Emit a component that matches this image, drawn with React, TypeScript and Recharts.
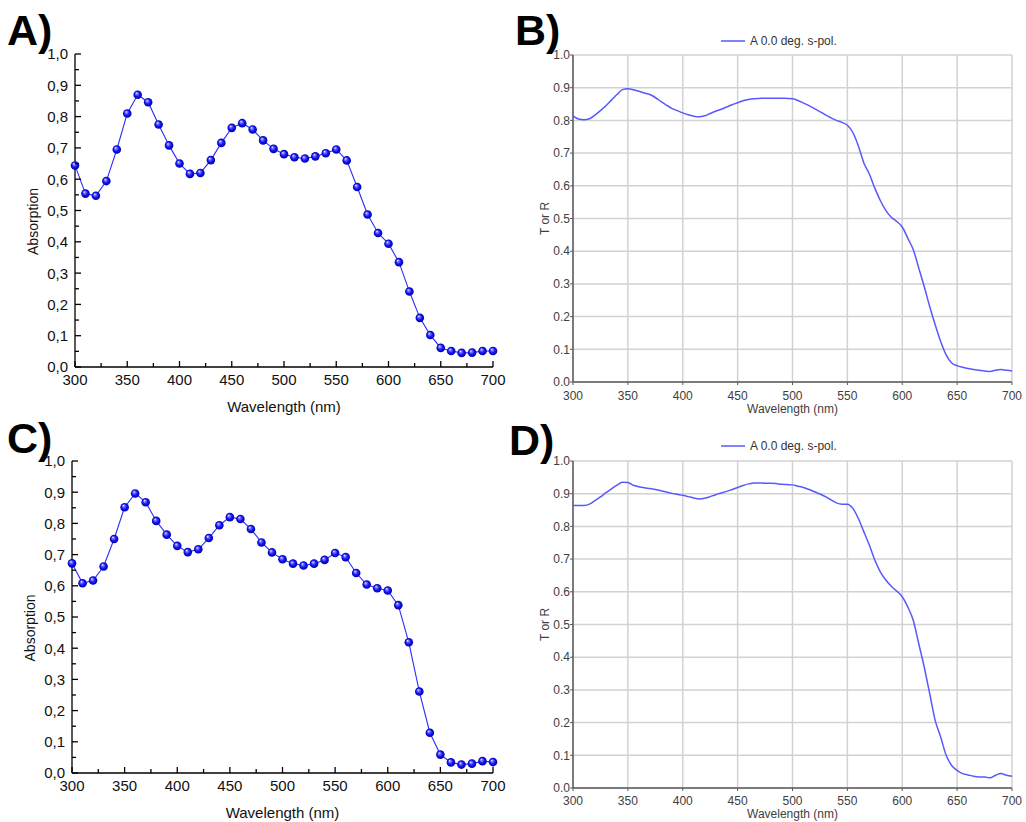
import React from "react"
import { LineChart, Line, XAxis, YAxis, CartesianGrid, Legend } from "recharts"

// wavelength grid of the measured absorption (nm)
const wl10 = [
  300, 310, 320, 330, 340, 350, 360, 370, 380, 390, 400, 410, 420, 430, 440, 450, 460, 470, 480, 490, 500,
  510, 520, 530, 540, 550, 560, 570, 580, 590, 600, 610, 620, 630, 640, 650, 660, 670, 680, 690, 700,
]

// panel A: measured absorption
const absA = [
  0.644, 0.554, 0.547, 0.594, 0.695, 0.81, 0.87, 0.846, 0.775, 0.708, 0.65, 0.617, 0.62, 0.661, 0.716, 0.764,
  0.779, 0.759, 0.724, 0.697, 0.68, 0.67, 0.666, 0.673, 0.683, 0.695, 0.66, 0.575, 0.487, 0.428, 0.394, 0.335,
  0.241, 0.157, 0.102, 0.061, 0.051, 0.045, 0.046, 0.051, 0.051,
]

// panel C: measured absorption
const absC = [
  0.672, 0.608, 0.617, 0.662, 0.75, 0.852, 0.896, 0.868, 0.808, 0.764, 0.728, 0.708, 0.717, 0.753, 0.794, 0.82,
  0.814, 0.782, 0.739, 0.707, 0.685, 0.671, 0.665, 0.671, 0.683, 0.705, 0.692, 0.641, 0.604, 0.592, 0.585, 0.538,
  0.419, 0.261, 0.129, 0.059, 0.034, 0.027, 0.03, 0.038, 0.035,
]

// wavelength grid of the simulated spectra (nm)
const wl5 = [
  300, 305, 310, 315, 320, 325, 330, 335, 340, 345, 350, 355, 360, 365, 370, 375, 380, 385, 390, 395, 400,
  405, 410, 415, 420, 425, 430, 435, 440, 445, 450, 455, 460, 465, 470, 475, 480, 485, 490, 495, 500,
  505, 510, 515, 520, 525, 530, 535, 540, 545, 550, 555, 560, 565, 570, 575, 580, 585, 590, 595, 600,
  605, 610, 615, 620, 625, 630, 635, 640, 645, 650, 655, 660, 665, 670, 675, 680, 685, 690, 695, 700,
]

// panel B: T or R
const torB = [
  0.814, 0.804, 0.802, 0.805, 0.816, 0.83, 0.845, 0.862, 0.879, 0.894, 0.897, 0.894, 0.889, 0.884, 0.879, 0.87,
  0.858, 0.847, 0.837, 0.83, 0.823, 0.817, 0.813, 0.811, 0.814, 0.821, 0.828, 0.834, 0.841, 0.848, 0.854, 0.86,
  0.864, 0.866, 0.867, 0.868, 0.868, 0.868, 0.868, 0.867, 0.866, 0.861, 0.853, 0.845, 0.836, 0.827, 0.817, 0.808,
  0.8, 0.794, 0.785, 0.763, 0.722, 0.67, 0.636, 0.593, 0.555, 0.525, 0.504, 0.491, 0.474, 0.44, 0.405, 0.349,
  0.292, 0.231, 0.175, 0.124, 0.083, 0.058, 0.05, 0.045, 0.041, 0.038, 0.036, 0.034, 0.032, 0.036, 0.038, 0.036,
  0.034,
]

// panel D: T or R
const torD = [
  0.864, 0.864, 0.864, 0.868, 0.879, 0.89, 0.903, 0.915, 0.926, 0.935, 0.934, 0.926, 0.921, 0.918, 0.916, 0.913,
  0.909, 0.905, 0.901, 0.898, 0.895, 0.891, 0.887, 0.884, 0.886, 0.891, 0.897, 0.902, 0.907, 0.913, 0.919, 0.925,
  0.93, 0.933, 0.933, 0.932, 0.932, 0.931, 0.929, 0.928, 0.927, 0.923, 0.919, 0.913, 0.906, 0.899, 0.891, 0.881,
  0.872, 0.868, 0.868, 0.855, 0.824, 0.784, 0.743, 0.697, 0.661, 0.636, 0.617, 0.602, 0.585, 0.554, 0.513, 0.442,
  0.37, 0.289, 0.207, 0.156, 0.1, 0.069, 0.054, 0.044, 0.04, 0.036, 0.034, 0.034, 0.031, 0.039, 0.044, 0.039,
  0.036,
]

const minorX = [300, 325, 350, 375, 400, 425, 450, 475, 500, 525, 550, 575, 600, 625, 650, 675, 700]
const minorY = [0, 0.05, 0.1, 0.15, 0.2, 0.25, 0.3, 0.35, 0.4, 0.45, 0.5, 0.55, 0.6, 0.65, 0.7, 0.75, 0.8, 0.85, 0.9, 0.95, 1]
const gridX = [300, 350, 400, 450, 500, 550, 600, 650, 700]
const gridY = [0, 0.1, 0.2, 0.3, 0.4, 0.5, 0.6, 0.7, 0.8, 0.9, 1]

const rowsA = wl10.map((wl, i) => ({ wl, v: absA[i] }))
const rowsC = wl10.map((wl, i) => ({ wl, v: absC[i] }))
const rowsB = wl5.map((wl, i) => ({ wl, v: torB[i] }))
const rowsD = wl5.map((wl, i) => ({ wl, v: torD[i] }))

const sans = "'Liberation Sans', Arial, sans-serif"
const specBlue = "#5858ff"
const specText = "#404040"

const isMajor = (v: number, step: number) => Math.abs(v / step - Math.round(v / step)) < 1e-6

// Origin style ticks: pointing inwards, minor ones shorter, labels on majors only
function OriginTick(props: any) {
  const { x, y, payload, side } = props
  const v = payload.value
  const vertical = side === "left" || side === "right"
  const maj = isMajor(v, vertical ? 0.1 : 50)
  const len = maj ? 6 : 4
  let l = [0, 0, 0, 0]
  if (side === "left") l = [x + 7, y, x + 7 + len, y]
  if (side === "right") l = [x, y, x - len, y]
  if (side === "top") l = [x, y, x, y + len]
  if (side === "bottom") l = [x, y - 7, x, y - 7 - len]
  return (
    <g>
      <line x1={l[0]} y1={l[1]} x2={l[2]} y2={l[3]} stroke="#000" strokeWidth={1.3} />
      {maj && side === "left" && (
        <text x={x} y={y} dy="0.36em" textAnchor="end" fontSize={15} fontFamily={sans} fill="#111">
          {v.toFixed(1).replace(".", ",")}
        </text>
      )}
      {maj && side === "bottom" && (
        <text x={x} y={y} dy="0.71em" textAnchor="middle" fontSize={15} fontFamily={sans} fill="#111">
          {v}
        </text>
      )}
    </g>
  )
}

function HTitle(props: any) {
  const { viewBox, value, off, size, fill } = props
  return (
    <text x={viewBox.x + viewBox.width / 2} y={viewBox.y + off} dy="0.36em" textAnchor="middle"
      fontSize={size} fontFamily={sans} fill={fill}>
      {value}
    </text>
  )
}

function VTitle(props: any) {
  const { viewBox, value, cx, dy, size, fill } = props
  const cy = viewBox.y + viewBox.height / 2 + dy
  return (
    <text x={cx} y={cy} dy="0.36em" textAnchor="middle" transform={`rotate(-90, ${cx}, ${cy})`}
      fontSize={size} fontFamily={sans} fill={fill}>
      {value}
    </text>
  )
}

const BallDot = (p: any) => <circle key={`d-${p.index}`} cx={p.cx} cy={p.cy} r={4.3} fill="url(#ball)" />

function AbsorptionPanel({ rows, top, height, axisW, plotTop, bottom, titleX }: any) {
  const frame = { stroke: "#000", strokeWidth: 1.3 }
  return (
    <div style={{ position: "absolute", left: 0, top }}>
      <LineChart width={514} height={height} data={rows}
        margin={{ top: plotTop, right: 21, bottom: 3, left: 0 }}>
        <XAxis dataKey="wl" type="number" domain={[300, 700]} ticks={minorX} interval={0}
          height={bottom} tickSize={0} tickMargin={7} axisLine={frame} tick={<OriginTick side="bottom" />}
          label={<HTitle value="Wavelength (nm)" off={40} size={15} fill="#111" />} />
        <YAxis type="number" domain={[0, 1]} ticks={minorY} interval={0} width={axisW}
          tickSize={0} tickMargin={7} axisLine={frame} tick={<OriginTick side="left" />}
          label={<VTitle value="Absorption" cx={titleX} dy={11} size={14} fill="#111" />} />
        <XAxis xAxisId="top" orientation="top" type="number" domain={[300, 700]} ticks={minorX}
          interval={0} height={0} tickSize={0} tickMargin={0} axisLine={frame} tick={<OriginTick side="top" />} />
        <YAxis yAxisId="right" orientation="right" type="number" domain={[0, 1]} ticks={minorY}
          interval={0} width={0} tickSize={0} tickMargin={0} axisLine={frame} tick={<OriginTick side="right" />} />
        <Line type="linear" dataKey="v" stroke="#2b2bff" strokeWidth={1.1} dot={BallDot}
          activeDot={false} isAnimationActive={false} />
      </LineChart>
    </div>
  )
}

const SpecLegend = () => (
  <div style={{ display: "flex", alignItems: "center", fontSize: 12, fontFamily: sans, color: "#333", lineHeight: "14px" }}>
    <svg width={24} height={6}>
      <line x1={0} x2={24} y1={3} y2={3} stroke={specBlue} strokeWidth={1.5} />
    </svg>
    <span style={{ marginLeft: 5 }}>A 0.0 deg. s-pol.</span>
  </div>
)

function SpectrumPanel({ rows, top, height, plotTop, bottom, legendTop, tickGap, titleOff }: any) {
  const frame = { stroke: "#5a5a5a", strokeWidth: 1.5 }
  return (
    <div style={{ position: "absolute", left: 500, top }}>
      <LineChart width={526} height={height} data={rows}
        margin={{ top: plotTop, right: 14, bottom: 2, left: 0 }}>
        <CartesianGrid stroke="#d2d2d2" strokeWidth={1.5} />
        <XAxis dataKey="wl" type="number" domain={[300, 700]} ticks={gridX} interval={0}
          height={bottom} tickSize={3} tickMargin={tickGap} axisLine={frame} tickLine={{ stroke: "#5a5a5a" }}
          tick={{ fill: specText, fontSize: 12, fontFamily: sans }}
          label={<HTitle value="Wavelength (nm)" off={titleOff} size={12} fill={specText} />} />
        <YAxis type="number" domain={[0, 1]} ticks={gridY} interval={0} width={73}
          tickSize={3} tickMargin={0} axisLine={frame} tickLine={{ stroke: "#5a5a5a" }}
          tick={{ fill: specText, fontSize: 12, fontFamily: sans }} tickFormatter={(v: number) => v.toFixed(1)}
          label={<VTitle value="T or R" cx={45} dy={0} size={12} fill={specText} />} />
        <XAxis xAxisId="top" orientation="top" type="number" domain={[300, 700]} height={0}
          tick={false} tickLine={false} axisLine={frame} />
        <YAxis yAxisId="right" orientation="right" type="number" domain={[0, 1]} width={0}
          tick={false} tickLine={false} axisLine={frame} />
        <Legend layout="horizontal" verticalAlign="middle" content={SpecLegend}
          wrapperStyle={{ top: legendTop, left: 221, width: 200, height: 14 }} />
        <Line type="monotone" dataKey="v" stroke={specBlue} strokeWidth={1.5} dot={false}
          activeDot={false} isAnimationActive={false} />
      </LineChart>
    </div>
  )
}

const panelLabel = (text: string, left: number, top: number) => (
  <div style={{
    position: "absolute", left, top, fontSize: 43, lineHeight: "43px",
    fontWeight: 700, fontFamily: sans, color: "#000",
  }}>
    {text}
  </div>
)

export default function App() {
  return (
    <div style={{ position: "absolute", left: 0, top: 0, width: 1026, height: 822, background: "#fff", overflow: "hidden" }}>
      <svg width={0} height={0} style={{ position: "absolute" }}>
        <defs>
          <radialGradient id="ball" cx="50%" cy="50%" r="50%" fx="35%" fy="30%">
            <stop offset="0%" stopColor="#ffffff" />
            <stop offset="22%" stopColor="#8080ff" />
            <stop offset="60%" stopColor="#1515f5" />
            <stop offset="100%" stopColor="#0000a8" />
          </radialGradient>
        </defs>
      </svg>
      <SpectrumPanel rows={rowsB} top={0} height={420} plotTop={55} bottom={36} legendTop={34} tickGap={6} titleOff={27} />
      <SpectrumPanel rows={rowsD} top={410} height={412} plotTop={51} bottom={32} legendTop={29} tickGap={5} titleOff={26} />
      <AbsorptionPanel rows={rowsA} top={0} height={420} axisW={75} plotTop={54} bottom={50} titleX={33} />
      <AbsorptionPanel rows={rowsC} top={410} height={412} axisW={72} plotTop={51} bottom={46} titleX={30} />
      {panelLabel("A)", 7, 9)}
      {panelLabel("B)", 515, 9)}
      {panelLabel("C)", 7, 417)}
      {panelLabel("D)", 509, 419)}
    </div>
  )
}
